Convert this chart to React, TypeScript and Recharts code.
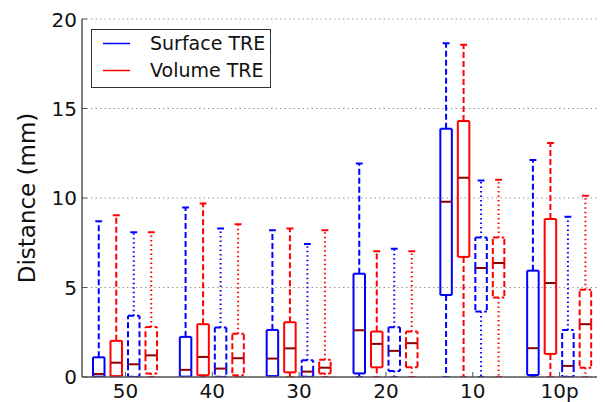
import React from 'react';
import { ComposedChart, Bar, Line, XAxis, YAxis, CartesianGrid, Legend } from 'recharts';

const categories = ['50', '40', '30', '20', '10', '10p'];
const yTicks = [0, 5, 10, 15, 20];

// each entry: [min, q1, median, q3, max]
const surfaceSolid: number[][] = [
  [0, 0.02, 0.17, 1.1, 8.7],
  [0, 0.02, 0.4, 2.24, 9.47],
  [0, 0.05, 1.03, 2.63, 8.2],
  [0, 0.2, 2.61, 5.77, 11.93],
  [0, 4.58, 9.79, 13.87, 18.64],
  [0, 0.11, 1.61, 5.94, 12.12],
];
const volumeSolid: number[][] = [
  [0, 0.05, 0.8, 2.02, 9.04],
  [0, 0.1, 1.12, 2.95, 9.69],
  [0, 0.26, 1.6, 3.06, 8.29],
  [0, 0.54, 1.85, 2.54, 7.02],
  [0, 6.71, 11.13, 14.3, 18.56],
  [0, 1.29, 5.25, 8.83, 13.07],
];
const surfaceDashed: number[][] = [
  [0, 0.02, 0.71, 3.42, 8.08],
  [0, 0.02, 0.47, 2.76, 8.29],
  [0, 0.02, 0.3, 0.93, 7.43],
  [0, 0.34, 1.46, 2.78, 7.17],
  [0, 3.66, 6.09, 7.8, 10.98],
  [0, 0.02, 0.62, 2.63, 8.95],
];
const volumeDashed: number[][] = [
  [0, 0.2, 1.21, 2.8, 8.08],
  [0, 0.1, 1.05, 2.41, 8.53],
  [0, 0.2, 0.52, 0.97, 8.2],
  [0, 0.54, 1.89, 2.54, 7.02],
  [0, 4.44, 6.37, 7.8, 11.02],
  [0, 0.52, 2.95, 4.87, 10.12],
];

const BLUE = '#0000ff';
const RED = '#ff0000';
const MEDIAN = '#8b0000';
const FRAME = '#555555';
const FONT = "'DejaVu Sans', sans-serif";

const seriesDefs = [
  { values: surfaceSolid, color: BLUE, boxDash: undefined as string | undefined, whiskerDash: '6 3' },
  { values: volumeSolid, color: RED, boxDash: undefined as string | undefined, whiskerDash: '6 3' },
  { values: surfaceDashed, color: BLUE, boxDash: '6 3', whiskerDash: '1.5 3' },
  { values: volumeDashed, color: RED, boxDash: '6 3', whiskerDash: '1.5 3' },
];
const parts = ['base', 'lw', 'lb', 'ub', 'uw'];

const table = categories.map((cat, i) => {
  const row: Record<string, any> = { cat };
  seriesDefs.forEach((s, k) => {
    const [mn, q1, md, q3, mx] = s.values[i];
    row[`s${k}_base`] = mn;
    row[`s${k}_lw`] = q1 - mn;
    row[`s${k}_lb`] = md - q1;
    row[`s${k}_ub`] = q3 - md;
    row[`s${k}_uw`] = mx - q3;
  });
  return row;
});

const makeShape = (part: string, def: (typeof seriesDefs)[number]) => (props: any) => {
  const { x, y, width, height } = props;
  if (x == null || y == null || width == null || height == null) return <g />;
  const top = Math.min(y, y + height);
  const bot = Math.max(y, y + height);
  const cx = x + width / 2;
  const capHalf = width * 0.3;
  const sw = 2;
  const c = def.color;
  switch (part) {
    case 'lw':
      return (
        <g>
          <line x1={cx} x2={cx} y1={top} y2={bot} stroke={c} strokeWidth={sw} strokeDasharray={def.whiskerDash} />
          <line x1={cx - capHalf} x2={cx + capHalf} y1={bot} y2={bot} stroke={c} strokeWidth={sw} />
        </g>
      );
    case 'lb':
      return (
        <g>
          <line x1={x} x2={x} y1={top} y2={bot} stroke={c} strokeWidth={sw} strokeDasharray={def.boxDash} />
          <line x1={x + width} x2={x + width} y1={top} y2={bot} stroke={c} strokeWidth={sw} strokeDasharray={def.boxDash} />
          <line x1={x} x2={x + width} y1={bot} y2={bot} stroke={c} strokeWidth={sw} strokeDasharray={def.boxDash} />
          <line x1={x} x2={x + width} y1={top} y2={top} stroke={MEDIAN} strokeWidth={sw} />
        </g>
      );
    case 'ub':
      return (
        <g>
          <line x1={x} x2={x} y1={bot} y2={top} stroke={c} strokeWidth={sw} strokeDasharray={def.boxDash} />
          <line x1={x + width} x2={x + width} y1={bot} y2={top} stroke={c} strokeWidth={sw} strokeDasharray={def.boxDash} />
          <line x1={x} x2={x + width} y1={top} y2={top} stroke={c} strokeWidth={sw} strokeDasharray={def.boxDash} />
        </g>
      );
    case 'uw':
      return (
        <g>
          <line x1={cx} x2={cx} y1={bot} y2={top} stroke={c} strokeWidth={sw} strokeDasharray={def.whiskerDash} />
          <line x1={cx - capHalf} x2={cx + capHalf} y1={top} y2={top} stroke={c} strokeWidth={sw} />
        </g>
      );
    default:
      return <g />;
  }
};

const LegendBox = () => (
  <div
    style={{
      position: 'relative',
      width: 180,
      height: 59,
      boxSizing: 'border-box',
      border: '1px solid #333',
      background: '#fff',
      fontFamily: FONT,
      fontSize: 19,
      color: '#111',
    }}
  >
    <svg width={50} height={59} style={{ position: 'absolute', left: 0, top: 0 }}>
      <line x1={11} x2={38} y1={13.5} y2={13.5} stroke={BLUE} strokeWidth={1.5} />
      <line x1={11} x2={38} y1={40.5} y2={40.5} stroke={RED} strokeWidth={1.5} />
    </svg>
    <span style={{ position: 'absolute', left: 58, top: 2, lineHeight: '22px', whiteSpace: 'nowrap' }}>Surface TRE</span>
    <span style={{ position: 'absolute', left: 58, top: 29, lineHeight: '22px', whiteSpace: 'nowrap' }}>Volume TRE</span>
  </div>
);

export default function App() {
  return (
    <ComposedChart
      width={597}
      height={394}
      data={table}
      margin={{ top: 11, right: 1, bottom: 0, left: 0 }}
      barSize={11.5}
      barGap={6}
      style={{ fontFamily: FONT }}
    >
      <CartesianGrid
        xAxisId="b"
        yAxisId="l"
        vertical={false}
        stroke="#999"
        strokeDasharray="1.5 3"
      />
      <XAxis
        xAxisId="b"
        dataKey="cat"
        orientation="bottom"
        height={25}
        tickSize={-5}
        tickMargin={12}
        axisLine={{ stroke: FRAME, strokeWidth: 1.5 }}
        tickLine={{ stroke: FRAME }}
        tick={{ fontSize: 20, fill: '#111', fontFamily: FONT }}
        interval={0}
      />
      <XAxis
        xAxisId="t"
        dataKey="cat"
        orientation="top"
        height={0}
        tickSize={-5}
        tick={false}
        axisLine={{ stroke: FRAME, strokeWidth: 1.5 }}
        tickLine={{ stroke: FRAME }}
        interval={0}
      />
      <YAxis
        yAxisId="l"
        orientation="left"
        width={74}
        type="number"
        domain={[0, 20]}
        ticks={yTicks}
        allowDataOverflow
        tickSize={-5}
        tickMargin={10}
        axisLine={{ stroke: FRAME, strokeWidth: 1.5 }}
        tickLine={{ stroke: FRAME }}
        tick={{ fontSize: 20, fill: '#111', fontFamily: FONT }}
        label={{
          value: 'Distance (mm)',
          angle: -90,
          position: 'insideLeft',
          offset: 19,
          style: { textAnchor: 'middle', fontSize: 23, fill: '#111', fontFamily: FONT },
        }}
      />
      <YAxis
        yAxisId="r"
        orientation="right"
        width={1}
        type="number"
        domain={[0, 20]}
        ticks={yTicks}
        allowDataOverflow
        tickSize={-5}
        tick={false}
        axisLine={{ stroke: FRAME, strokeWidth: 1.5 }}
        tickLine={{ stroke: FRAME }}
      />
      {seriesDefs.map((def, k) =>
        parts.map((part) => (
          <Bar
            key={`s${k}_${part}`}
            xAxisId="b"
            yAxisId="l"
            dataKey={`s${k}_${part}`}
            stackId={`s${k}`}
            isAnimationActive={false}
            shape={makeShape(part, def)}
            legendType="none"
          />
        ))
      )}
      <Line
        xAxisId="t"
        yAxisId="r"
        dataKey="s0_base"
        stroke="none"
        dot={false}
        activeDot={false}
        isAnimationActive={false}
        legendType="none"
      />
      <Legend
        layout="vertical"
        align="center"
        verticalAlign="middle"
        wrapperStyle={{ left: 83, top: 21, width: 180 }}
        content={() => <LegendBox />}
      />
    </ComposedChart>
  );
}
